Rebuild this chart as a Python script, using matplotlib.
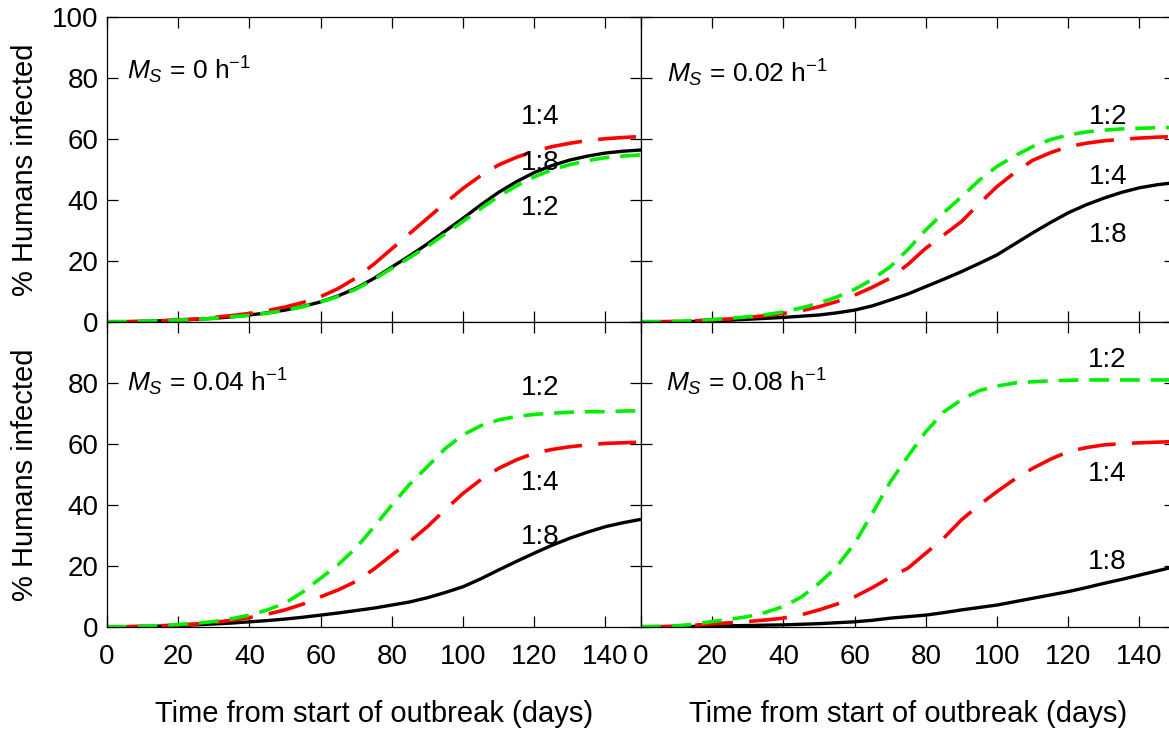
import numpy as np
import matplotlib
matplotlib.use("Agg")
import matplotlib.pyplot as plt

plt.rcParams["font.family"] = ["Liberation Sans", "DejaVu Sans"]
plt.rcParams["mathtext.fontset"] = "custom"
plt.rcParams["mathtext.rm"] = "Liberation Sans"
plt.rcParams["mathtext.it"] = "Liberation Sans:italic"

# -----------------------------
# Data
# -----------------------------
days = np.arange(0, 151, 5)

ms_labels = ["0", "0.02", "0.04", "0.08"]

# Ms = 0 h^-1
ms0_r8 = [0.1, 0.1, 0.2, 0.4, 0.6, 0.9, 1.2, 1.7, 2.3, 3.0, 3.9, 5.1, 6.6, 8.6, 11.1, 14.3,
          18.0, 21.7, 25.6, 29.8, 34.0, 38.4, 42.5, 46.0, 49.0, 51.3, 53.1, 54.4, 55.4, 56.0, 56.4]
ms0_r4 = [0.1, 0.1, 0.2, 0.4, 0.7, 1.0, 1.5, 2.1, 2.8, 3.7, 4.9, 6.4, 8.3, 11.0, 14.5, 19.0,
          24.0, 29.0, 34.0, 39.0, 43.8, 48.0, 51.5, 54.0, 56.0, 57.5, 58.6, 59.5, 60.1, 60.5, 60.8]
ms0_r2 = [0.1, 0.1, 0.2, 0.4, 0.6, 0.9, 1.2, 1.7, 2.2, 2.9, 3.8, 5.0, 6.5, 8.4, 10.8, 14.0,
          17.6, 21.1, 24.8, 28.9, 33.0, 37.2, 41.2, 44.6, 47.6, 49.9, 51.6, 52.9, 53.9, 54.4, 54.8]

# Ms = 0.02 h^-1
ms02_r8 = [0.0, 0.1, 0.1, 0.2, 0.4, 0.6, 0.9, 1.2, 1.5, 1.9, 2.3, 3.0, 3.9, 5.3, 7.2, 9.2,
           11.6, 14.0, 16.5, 19.2, 22.0, 25.6, 29.2, 32.6, 35.8, 38.4, 40.6, 42.5, 44.0, 45.0, 45.7]
ms02_r4 = [0.1, 0.1, 0.2, 0.4, 0.7, 1.0, 1.5, 2.1, 2.8, 3.7, 5.0, 6.7, 8.8, 11.4, 14.4, 18.9,
           24.2, 28.5, 32.9, 38.8, 44.4, 49.0, 53.0, 55.5, 57.5, 58.6, 59.4, 59.9, 60.3, 60.6, 60.8]
ms02_r2 = [0.1, 0.1, 0.2, 0.5, 0.8, 1.2, 1.7, 2.4, 3.3, 4.6, 6.2, 8.2, 10.7, 14.0, 18.1, 23.8,
           30.2, 35.8, 41.0, 46.5, 51.0, 54.5, 57.5, 59.8, 61.3, 62.3, 62.9, 63.3, 63.5, 63.7, 63.8]

# Ms = 0.04 h^-1
ms04_r8 = [0.0, 0.1, 0.2, 0.3, 0.5, 0.7, 1.0, 1.3, 1.7, 2.1, 2.6, 3.2, 3.9, 4.6, 5.4, 6.2,
           7.2, 8.2, 9.6, 11.3, 13.2, 15.8, 18.7, 21.5, 24.2, 26.8, 29.1, 31.1, 32.9, 34.2, 35.3]
ms04_r4 = [0.1, 0.1, 0.2, 0.4, 0.7, 1.0, 1.5, 2.2, 3.1, 4.2, 5.6, 7.5, 9.9, 12.2, 15.0, 19.0,
           23.6, 28.0, 32.9, 38.5, 43.8, 48.3, 52.0, 54.8, 57.0, 58.2, 59.1, 59.7, 60.2, 60.4, 60.6]
ms04_r2 = [0.1, 0.1, 0.2, 0.5, 0.8, 1.2, 1.8, 2.7, 3.9, 5.6, 7.8, 11.5, 16.0, 20.5, 26.0, 32.8,
           40.0, 46.8, 52.6, 58.5, 63.0, 66.0, 67.9, 69.0, 69.7, 70.1, 70.4, 70.6, 70.6, 70.8, 70.9]

# Ms = 0.08 h^-1
ms08_r8 = [0.0, 0.1, 0.1, 0.2, 0.3, 0.4, 0.5, 0.6, 0.7, 0.9, 1.1, 1.4, 1.7, 2.2, 2.9, 3.4,
           3.9, 4.7, 5.6, 6.4, 7.2, 8.3, 9.4, 10.5, 11.6, 12.9, 14.3, 15.6, 17.0, 18.4, 19.8]
ms08_r4 = [0.1, 0.1, 0.3, 0.6, 1.0, 1.4, 1.8, 2.3, 2.9, 4.0, 5.6, 7.5, 9.9, 12.9, 16.3, 19.3,
           24.2, 29.1, 35.1, 40.0, 44.4, 48.5, 52.0, 55.0, 57.5, 58.8, 59.7, 60.1, 60.4, 60.6, 60.8]
ms08_r2 = [0.1, 0.2, 0.4, 0.9, 1.8, 2.5, 3.4, 4.8, 6.7, 9.8, 14.3, 19.8, 27.4, 37.3, 47.5, 56.0,
           64.0, 70.5, 74.5, 77.5, 79.0, 80.0, 80.4, 80.7, 80.9, 81.0, 81.0, 81.0, 81.0, 81.0, 81.0]

panels = [
    (ms0_r8, ms0_r4, ms0_r2),
    (ms02_r8, ms02_r4, ms02_r2),
    (ms04_r8, ms04_r4, ms04_r2),
    (ms08_r8, ms08_r4, ms08_r2),
]

# ratio label positions (x, y) for 1:8, 1:4, 1:2
label_pos = [
    [(121.7, 52.1), (121.7, 67.2), (121.7, 37.4)],
    [(131.3, 28.5), (131.3, 47.6), (131.3, 67.3)],
    [(121.7, 29.6), (121.7, 47.1), (121.7, 78.3)],
    [(130.9, 21.4), (130.9, 50.2), (130.9, 87.5)],
]
ms_pos = [(5.5, 79.7), (7.2, 78.6), (5.5, 77.4), (7.0, 77.4)]

# -----------------------------
# Figure
# -----------------------------
fig = plt.figure(figsize=(11.69, 7.29), dpi=100)

W, H = 534 / 1169, 305 / 729
lefts = [107 / 1169, 641 / 1169]
bottoms = [1 - 322 / 729, 1 - 627 / 729]

for i, (r8, r4, r2) in enumerate(panels):
    row, col = divmod(i, 2)
    ax = fig.add_axes([lefts[col], bottoms[row], W, H])

    ax.plot(days, r8, color="black", lw=2.4, solid_capstyle="butt")
    ax.plot(days, r4, color="#ff0000", lw=2.6, dashes=(10.5, 4.5))
    ax.plot(days, r2, color="#00ee00", lw=2.6, dashes=(5.5, 3.0))

    for txt, (tx, ty) in zip(["1:8", "1:4", "1:2"], label_pos[i]):
        ax.text(tx, ty, txt, fontsize=20, ha="center", va="center")

    mx, my = ms_pos[i]
    ax.text(mx, my, r"$M_S$ = %s h$^{-1}$" % ms_labels[i], fontsize=19,
            ha="left", va="baseline")

    ax.set_xlim(0, 150)
    ax.set_ylim(0, 100)
    ax.set_xticks(np.arange(0, 141, 20))
    ax.set_yticks(np.arange(0, 101, 20))
    ax.tick_params(direction="in", top=True, right=True, length=8, width=0.9,
                   labelsize=20, colors="black")
    ax.tick_params(axis="x", pad=12)
    ax.tick_params(axis="y", pad=6)
    for sp in ax.spines.values():
        sp.set_linewidth(0.9)

    if row == 0:
        ax.tick_params(labelbottom=False)
    else:
        ax.set_xlabel("Time from start of outbreak (days)", fontsize=21, labelpad=22)
    if col == 1:
        ax.tick_params(labelleft=False)
    else:
        ax.set_ylabel("% Humans infected", fontsize=21)
        ax.yaxis.set_label_coords(-0.127, 0.5)
        if row == 1:
            ax.set_yticklabels(["0", "20", "40", "60", "80", ""])

fig.savefig("out.png", dpi=100)
